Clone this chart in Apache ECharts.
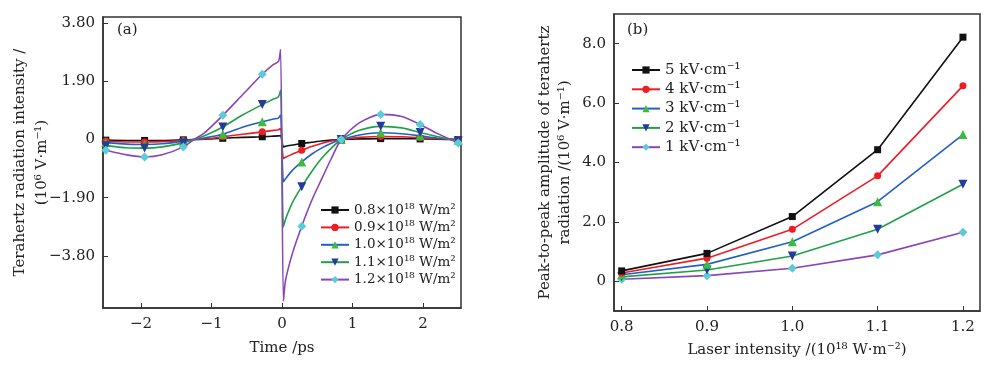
<!DOCTYPE html>
<html>
<head>
<meta charset="utf-8">
<script src="https://cdn.jsdelivr.net/npm/echarts@6/dist/echarts.min.js"></script>
<style>
  html, body { margin: 0; padding: 0; background: #fff; }
  #chart { width: 1000px; height: 368px; }
</style>
</head>
<body>
<div id="chart"></div>
<script>
// ---- panel (a): waveform vs time ----
const timePs = [-2.5, -2.2, -1.95, -1.7, -1.4, -1.25, -1.1, -0.84, -0.56, -0.28, -0.12, -0.05, -0.02,
  0.02, 0.05, 0.15, 0.28, 0.42, 0.56, 0.7, 0.84, 1.1, 1.4, 1.7, 1.96, 2.2, 2.5];
const markerTimes = [-2.5, -1.95, -1.4, -0.84, -0.28, 0.28, 0.84, 1.4, 1.96, 2.5];
const intensityNames = ['0.8×10¹⁸ W/m²', '0.9×10¹⁸ W/m²', '1.0×10¹⁸ W/m²', '1.1×10¹⁸ W/m²', '1.2×10¹⁸ W/m²'];
const wave08 = [-0.02, -0.03, -0.03, -0.03, -0.01, 0, 0.01, 0.04, 0.07, 0.09, 0.11, 0.12, 0.13,
  -0.24, -0.22, -0.18, -0.13, -0.09, -0.05, -0.02, 0, 0.02, 0.03, 0.03, 0.02, 0.01, 0];
const wave09 = [-0.05, -0.08, -0.08, -0.07, -0.03, 0, 0.02, 0.09, 0.17, 0.25, 0.3, 0.32, 0.36,
  -0.62, -0.58, -0.47, -0.35, -0.23, -0.13, -0.05, 0, 0.07, 0.1, 0.09, 0.06, 0.03, 0];
const wave10 = [-0.1, -0.15, -0.16, -0.14, -0.06, 0, 0.05, 0.17, 0.4, 0.58, 0.67, 0.7, 0.8,
  -1.38, -1.28, -1.0, -0.73, -0.48, -0.28, -0.12, 0, 0.15, 0.22, 0.19, 0.12, 0.05, -0.02];
const wave11 = [-0.2, -0.27, -0.28, -0.24, -0.11, 0, 0.12, 0.41, 0.8, 1.14, 1.32, 1.4, 1.61,
  -2.85, -2.6, -2.05, -1.54, -1.05, -0.62, -0.28, 0, 0.3, 0.43, 0.38, 0.23, 0.1, -0.05];
const wave12 = [-0.35, -0.5, -0.57, -0.5, -0.24, 0, 0.22, 0.79, 1.46, 2.13, 2.45, 2.55, 2.94,
  -5.27, -4.6, -3.7, -2.83, -2.0, -1.3, -0.62, 0, 0.55, 0.82, 0.75, 0.49, 0.2, -0.11];
const waveTicks = [-3.8, -1.9, 0, 1.9, 3.8];
const timeTicks = [-2, -1, 0, 1, 2];

// ---- panel (b): peak-to-peak vs laser intensity ----
const laserIntensity = [0.8, 0.9, 1.0, 1.1, 1.2];
const fieldNames = ['5 kV·cm⁻¹', '4 kV·cm⁻¹', '3 kV·cm⁻¹', '2 kV·cm⁻¹', '1 kV·cm⁻¹'];
const p2p5 = [0.35, 0.94, 2.18, 4.43, 8.22];
const p2p4 = [0.28, 0.78, 1.75, 3.55, 6.58];
const p2p3 = [0.22, 0.57, 1.33, 2.68, 4.94];
const p2p2 = [0.15, 0.38, 0.85, 1.75, 3.27];
const p2p1 = [0.07, 0.19, 0.44, 0.89, 1.65];
const p2pTicks = [0, 2, 4, 6, 8];

// line colour / marker colour / marker shape for each of the five curves
const lineColors = ['#111111', '#ee1c25', '#2060c8', '#20a048', '#8a44b8'];
const markColors = ['#111111', '#ee1c25', '#3cbc3c', '#27399a', '#5ccbd8'];
const markShapes = ['rect', 'circle', 'triangle', 'path://M0,0 L10,0 L5,9 Z', 'diamond'];
const markSizes = [7, 7, 9, 9, 9];

const FONT = 'DejaVu Serif';
const minus = s => String(s).replace('-', '\u2212');

const waveSets = [wave08, wave09, wave10, wave11, wave12];
const p2pSets = [p2p5, p2p4, p2p3, p2p2, p2p1];

const chart = echarts.init(document.getElementById('chart'));

const frameAxis = {
  axisLine: { show: true, onZero: false, lineStyle: { color: '#333', width: 1.5 } },
  splitLine: { show: false },
  nameMoveOverlap: false,
};

const waveSeries = waveSets.map((vals, i) => ({
  name: intensityNames[i],
  type: 'line',
  xAxisIndex: 0,
  yAxisIndex: 0,
  smooth: 0.25,
  symbol: markShapes[i],
  symbolSize: markSizes[i],
  showAllSymbol: true,
  lineStyle: { color: lineColors[i], width: 1.6 },
  itemStyle: { color: markColors[i] },
  z: 2 + i,
  data: timePs.map((t, k) => (markerTimes.includes(t)
    ? { value: [t, vals[k]] }
    : { value: [t, vals[k]], symbol: 'none' })),
}));

const p2pSeries = p2pSets.map((vals, i) => ({
  name: fieldNames[i],
  type: 'line',
  xAxisIndex: 1,
  yAxisIndex: 1,
  symbol: markShapes[i],
  symbolSize: markSizes[i],
  lineStyle: { color: lineColors[i], width: 1.6 },
  itemStyle: { color: markColors[i] },
  z: 7 - i,
  data: laserIntensity.map((x, k) => [x, vals[k]]),
}));

chart.setOption({
  animation: false,
  textStyle: { fontFamily: FONT },
  grid: [
    { left: 103, top: 17, width: 358, height: 291, show: true, borderColor: '#333', borderWidth: 1.5 },
    { left: 614, top: 14, width: 366, height: 297, show: true, borderColor: '#333', borderWidth: 1.5 },
  ],
  xAxis: [
    {
      ...frameAxis, gridIndex: 0, type: 'value', min: -2.54, max: 2.54,
      name: 'Time /ps', nameLocation: 'middle', nameGap: 33,
      nameTextStyle: { fontFamily: FONT, fontSize: 15, color: '#222' },
      axisTick: { inside: true, length: 5, customValues: timeTicks, lineStyle: { color: '#333' } },
      axisLabel: { customValues: timeTicks, formatter: v => minus(v), fontFamily: FONT, fontSize: 15, color: '#222', margin: 9 },
    },
    {
      ...frameAxis, gridIndex: 1, type: 'value', min: 0.791, max: 1.22,
      name: 'Laser intensity /(10¹⁸ W·m⁻²)', nameLocation: 'middle', nameGap: 32,
      nameTextStyle: { fontFamily: FONT, fontSize: 15, color: '#222' },
      axisTick: { inside: true, length: 5, customValues: laserIntensity, lineStyle: { color: '#333' } },
      axisLabel: { customValues: laserIntensity, formatter: v => v.toFixed(1), fontFamily: FONT, fontSize: 15, color: '#222', margin: 9 },
    },
  ],
  yAxis: [
    {
      ...frameAxis, gridIndex: 0, type: 'value', min: -5.5, max: 4.0,
      name: 'Terahertz radiation intensity /\n(10⁶ V·m⁻¹)', nameLocation: 'middle', nameGap: 50, nameRotate: 90,
      nameTextStyle: { fontFamily: FONT, fontSize: 15, color: '#222', lineHeight: 22, align: 'center' },
      axisTick: { inside: true, length: 5, customValues: waveTicks, lineStyle: { color: '#333' } },
      axisLabel: { customValues: waveTicks, formatter: v => (v === 0 ? '0' : minus(v.toFixed(2))), fontFamily: FONT, fontSize: 15, color: '#222', margin: 8 },
    },
    {
      ...frameAxis, gridIndex: 1, type: 'value', min: -1, max: 9,
      name: 'Peak-to-peak amplitude of terahertz\nradiation /(10⁶ V·m⁻¹)', nameLocation: 'middle', nameGap: 39, nameRotate: 90,
      nameTextStyle: { fontFamily: FONT, fontSize: 15, color: '#222', lineHeight: 20, align: 'center' },
      axisTick: { inside: true, length: 5, customValues: p2pTicks, lineStyle: { color: '#333' } },
      axisLabel: { customValues: p2pTicks, formatter: v => (v === 0 ? '0' : v.toFixed(1)), fontFamily: FONT, fontSize: 15, color: '#222', margin: 8 },
    },
  ],
  legend: [
    {
      data: intensityNames, orient: 'vertical', left: 320, top: 203, padding: 0,
      itemWidth: 28, itemHeight: 9, itemGap: 3.4,
      textStyle: { fontFamily: FONT, fontSize: 13.5, color: '#222' },
    },
    {
      data: fieldNames, orient: 'vertical', left: 631, top: 62.5, padding: 0,
      itemWidth: 28, itemHeight: 9, itemGap: 4.3,
      textStyle: { fontFamily: FONT, fontSize: 15, color: '#222' },
    },
  ],
  graphic: [
    { type: 'text', left: 117, top: 23, style: { text: '(a)', font: '15px "DejaVu Serif"', fill: '#222' } },
    { type: 'text', left: 627, top: 23, style: { text: '(b)', font: '15px "DejaVu Serif"', fill: '#222' } },
  ],
  series: [...waveSeries, ...p2pSeries],
});
</script>
</body>
</html>
